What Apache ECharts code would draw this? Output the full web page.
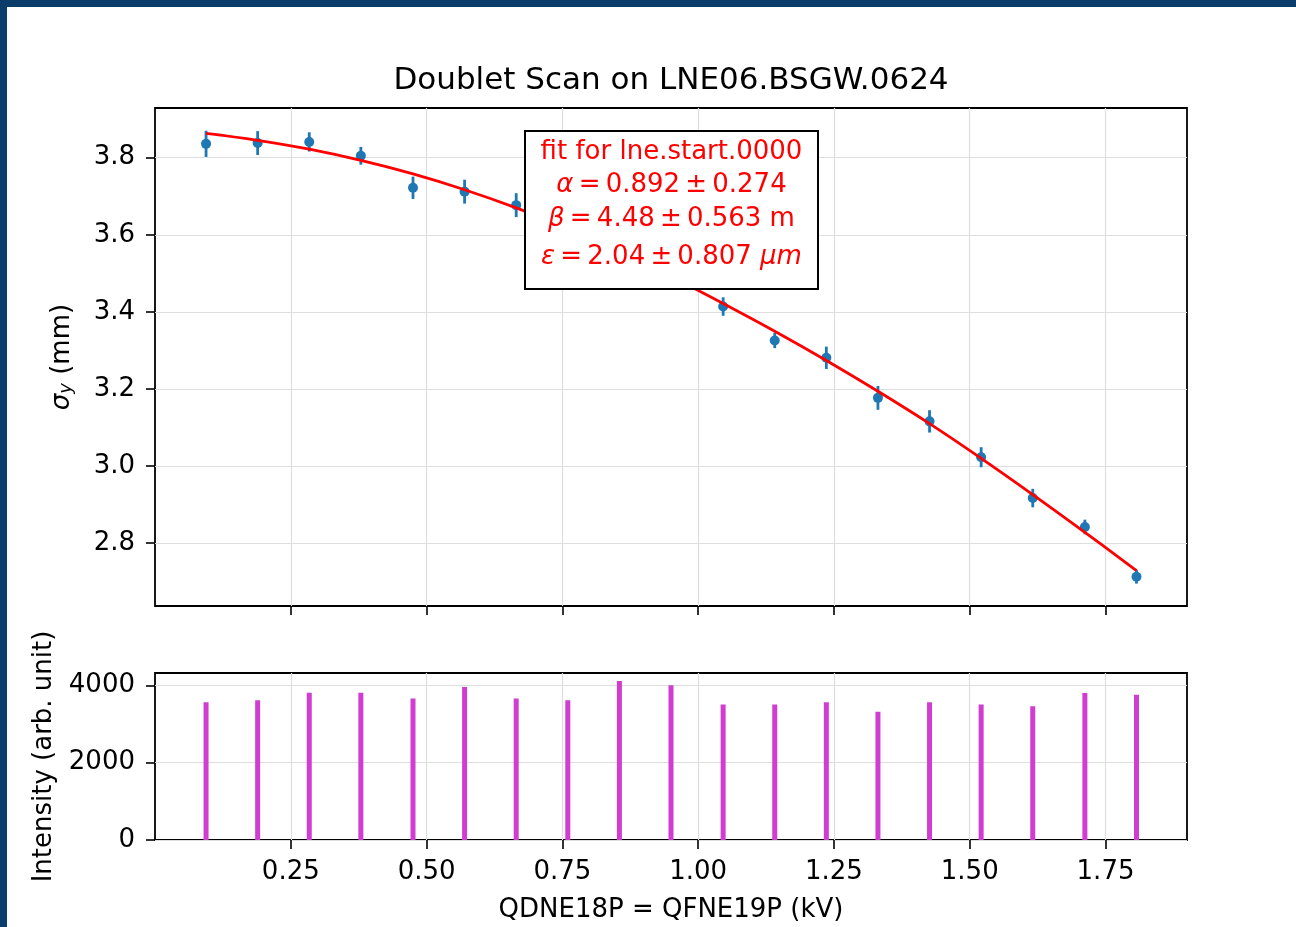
<!DOCTYPE html>
<html><head><meta charset="utf-8">
<script src="https://cdn.jsdelivr.net/npm/echarts@6/dist/echarts.min.js"></script>
<style>
html,body{margin:0;padding:0;background:#0c3c6a;overflow:hidden;}
#panel{position:absolute;left:7px;top:7px;width:1289px;height:920px;background:#fff;}
#chart{position:absolute;left:0;top:0;width:1296px;height:927px;}
</style></head><body>
<div id="panel"></div><div id="chart"></div>
<script>
// quadrupole setting (kV)
const xValues = [0.094, 0.189, 0.284, 0.379, 0.475, 0.570, 0.665, 0.760, 0.855, 0.950,
                 1.046, 1.141, 1.236, 1.331, 1.426, 1.521, 1.616, 1.712, 1.807];
// measured beam size sigma_y (mm)
const sigmaY = [3.836, 3.838, 3.841, 3.805, 3.722, 3.712, 3.677, 3.605, 3.556, 3.488,
                3.414, 3.326, 3.281, 3.177, 3.116, 3.023, 2.917, 2.842, 2.713];
// error on sigma_y (mm)
const sigmaErr = [0.034, 0.031, 0.025, 0.023, 0.029, 0.031, 0.031, 0.030, 0.030, 0.030,
                  0.024, 0.020, 0.029, 0.031, 0.029, 0.026, 0.024, 0.019, 0.018];
// fit curve
const fitX = [0.094, 0.189, 0.284, 0.379, 0.475, 0.570, 0.665, 0.760, 0.855, 0.950,
              1.046, 1.141, 1.236, 1.331, 1.426, 1.521, 1.616, 1.712, 1.807];
const fitY = [3.863, 3.845, 3.822, 3.793, 3.758, 3.717, 3.670, 3.617, 3.559, 3.492,
              3.422, 3.350, 3.274, 3.194, 3.110, 3.020, 2.926, 2.828, 2.729];
// intensity (arb. unit)
const intensity = [3566, 3618, 3810, 3810, 3662, 3956, 3662, 3618, 4112, 4000,
                   3506, 3506, 3566, 3317, 3566, 3506, 3462, 3800, 3758];
// tick labels
const xTicks = [0.25, 0.50, 0.75, 1.00, 1.25, 1.50, 1.75];
const yTicksTop = [2.8, 3.0, 3.2, 3.4, 3.6, 3.8];
const yTicksBottom = [0, 2000, 4000];

const titleText = 'Doublet Scan on LNE06.BSGW.0624';
const xName = 'QDNE18P = QFNE19P (kV)';
const yNameBottom = 'Intensity (arb. unit)';
const fitLines = [
  'fit for lne.start.0000',
  '{i|α}\u2009=\u20090.892\u2009±\u20090.274',
  '{i|β}\u2009=\u20094.48\u2009±\u20090.563 m',
  '{i|ε}\u2009=\u20092.04\u2009±\u20090.807 {i|μm}'
];

const FONT = 'DejaVu Sans';
const TXT = '#000';
const grid0 = {left: 155, top: 108, width: 1032, height: 498};
const grid1 = {left: 155, top: 673, width: 1032, height: 167};
const gridStyle = {show: true, borderColor: '#000', borderWidth: 1.8, backgroundColor: 'rgba(0,0,0,0)'};
const tickStyle = {show: true, length: 9, inside: false, lineStyle: {color: '#000', width: 1.6}};
const splitStyle = {show: true, lineStyle: {color: '#dedede', width: 1.2}};
const labelBase = {fontFamily: FONT, fontSize: 26, color: TXT};

const chart = echarts.init(document.getElementById('chart'), null, {renderer: 'canvas'});
const option = {
  animation: false,
  backgroundColor: 'transparent',
  textStyle: {fontFamily: FONT},
  grid: [Object.assign({}, grid0, gridStyle), Object.assign({}, grid1, gridStyle)],
  xAxis: [
    {gridIndex: 0, type: 'value', min: 0, max: 1.9, interval: 0.25,
     axisLine: {show: false},
     axisTick: Object.assign({customValues: xTicks}, tickStyle),
     axisLabel: {show: false},
     splitLine: splitStyle},
    {gridIndex: 1, type: 'value', min: 0, max: 1.9, interval: 0.25,
     axisLine: {show: false},
     axisTick: Object.assign({customValues: xTicks}, tickStyle),
     axisLabel: Object.assign({show: true, customValues: xTicks, margin: 19,
       formatter: v => v.toFixed(2)}, labelBase),
     splitLine: splitStyle,
     name: xName, nameLocation: 'middle', nameGap: 57,
     nameTextStyle: labelBase}
  ],
  yAxis: [
    {gridIndex: 0, type: 'value', min: 2.637, max: 3.929, splitNumber: 6,
     axisLine: {show: false},
     axisTick: Object.assign({customValues: yTicksTop}, tickStyle),
     axisLabel: Object.assign({show: true, customValues: yTicksTop, margin: 20,
       formatter: v => v.toFixed(1)}, labelBase),
     splitLine: splitStyle,
     name: '{i|σ}{sub|y} (mm)', nameLocation: 'middle', nameGap: 80, nameRotate: 90,
     nameTextStyle: Object.assign({rich: {
        i: {fontFamily: FONT, fontSize: 26, fontStyle: 'italic', color: TXT},
        sub: {fontFamily: FONT, fontSize: 18, fontStyle: 'italic', color: TXT, verticalAlign: 'bottom'}
     }}, labelBase)},
    {gridIndex: 1, type: 'value', min: 0, max: 4320, interval: 2000,
     axisLine: {show: false},
     axisTick: Object.assign({customValues: yTicksBottom}, tickStyle),
     axisLabel: Object.assign({show: true, customValues: yTicksBottom, margin: 20,
       formatter: v => String(v)}, labelBase),
     splitLine: splitStyle,
     name: yNameBottom, nameLocation: 'middle', nameGap: 98, nameRotate: 90,
     nameTextStyle: labelBase}
  ],
  series: [
    {type: 'custom', xAxisIndex: 0, yAxisIndex: 0, z: 2,
     data: xValues.map((x, i) => [x, sigmaY[i] - sigmaErr[i], sigmaY[i] + sigmaErr[i]]),
     encode: {x: 0, y: [1, 2]},
     renderItem: (params, api) => {
       const p1 = api.coord([api.value(0), api.value(1)]);
       const p2 = api.coord([api.value(0), api.value(2)]);
       return {type: 'line', shape: {x1: p1[0], y1: p1[1], x2: p2[0], y2: p2[1]},
               style: {stroke: '#1f77b4', lineWidth: 2.8}};
     }},
    {type: 'scatter', xAxisIndex: 0, yAxisIndex: 0, z: 3,
     data: xValues.map((x, i) => [x, sigmaY[i]]),
     symbol: 'circle', symbolSize: 10,
     itemStyle: {color: '#1f77b4', opacity: 1}},
    {type: 'line', xAxisIndex: 0, yAxisIndex: 0, z: 4,
     data: fitX.map((x, i) => [x, fitY[i]]),
     showSymbol: false, smooth: 0.4,
     lineStyle: {color: '#ff0000', width: 2.8}},
    {type: 'bar', xAxisIndex: 1, yAxisIndex: 1,
     data: xValues.map((x, i) => [x, intensity[i]]),
     barWidth: 5,
     itemStyle: {color: '#d03dd0'}}
  ],
  graphic: [
    {type: 'text', x: 671, y: 81, z: 100,
     style: {text: titleText, fontFamily: FONT, fontSize: 31, fill: TXT,
             textAlign: 'center', textVerticalAlign: 'middle'}},
    {type: 'rect', z: 100,
     shape: {x: 525, y: 131, width: 293, height: 158},
     style: {fill: '#fff', stroke: '#000', lineWidth: 2}},
    ...fitLines.map((t, k) => ({
      type: 'text', x: 671.5, y: [152, 185, 219, 257][k], z: 101,
      style: {text: t, fontFamily: FONT, fontSize: 26, fill: '#ff0000',
              textAlign: 'center', textVerticalAlign: 'middle',
              rich: {i: {fontFamily: FONT, fontSize: 26, fontStyle: 'italic', fill: '#ff0000'}}}
    }))
  ]
};
chart.setOption(option);
</script>
</body></html>
